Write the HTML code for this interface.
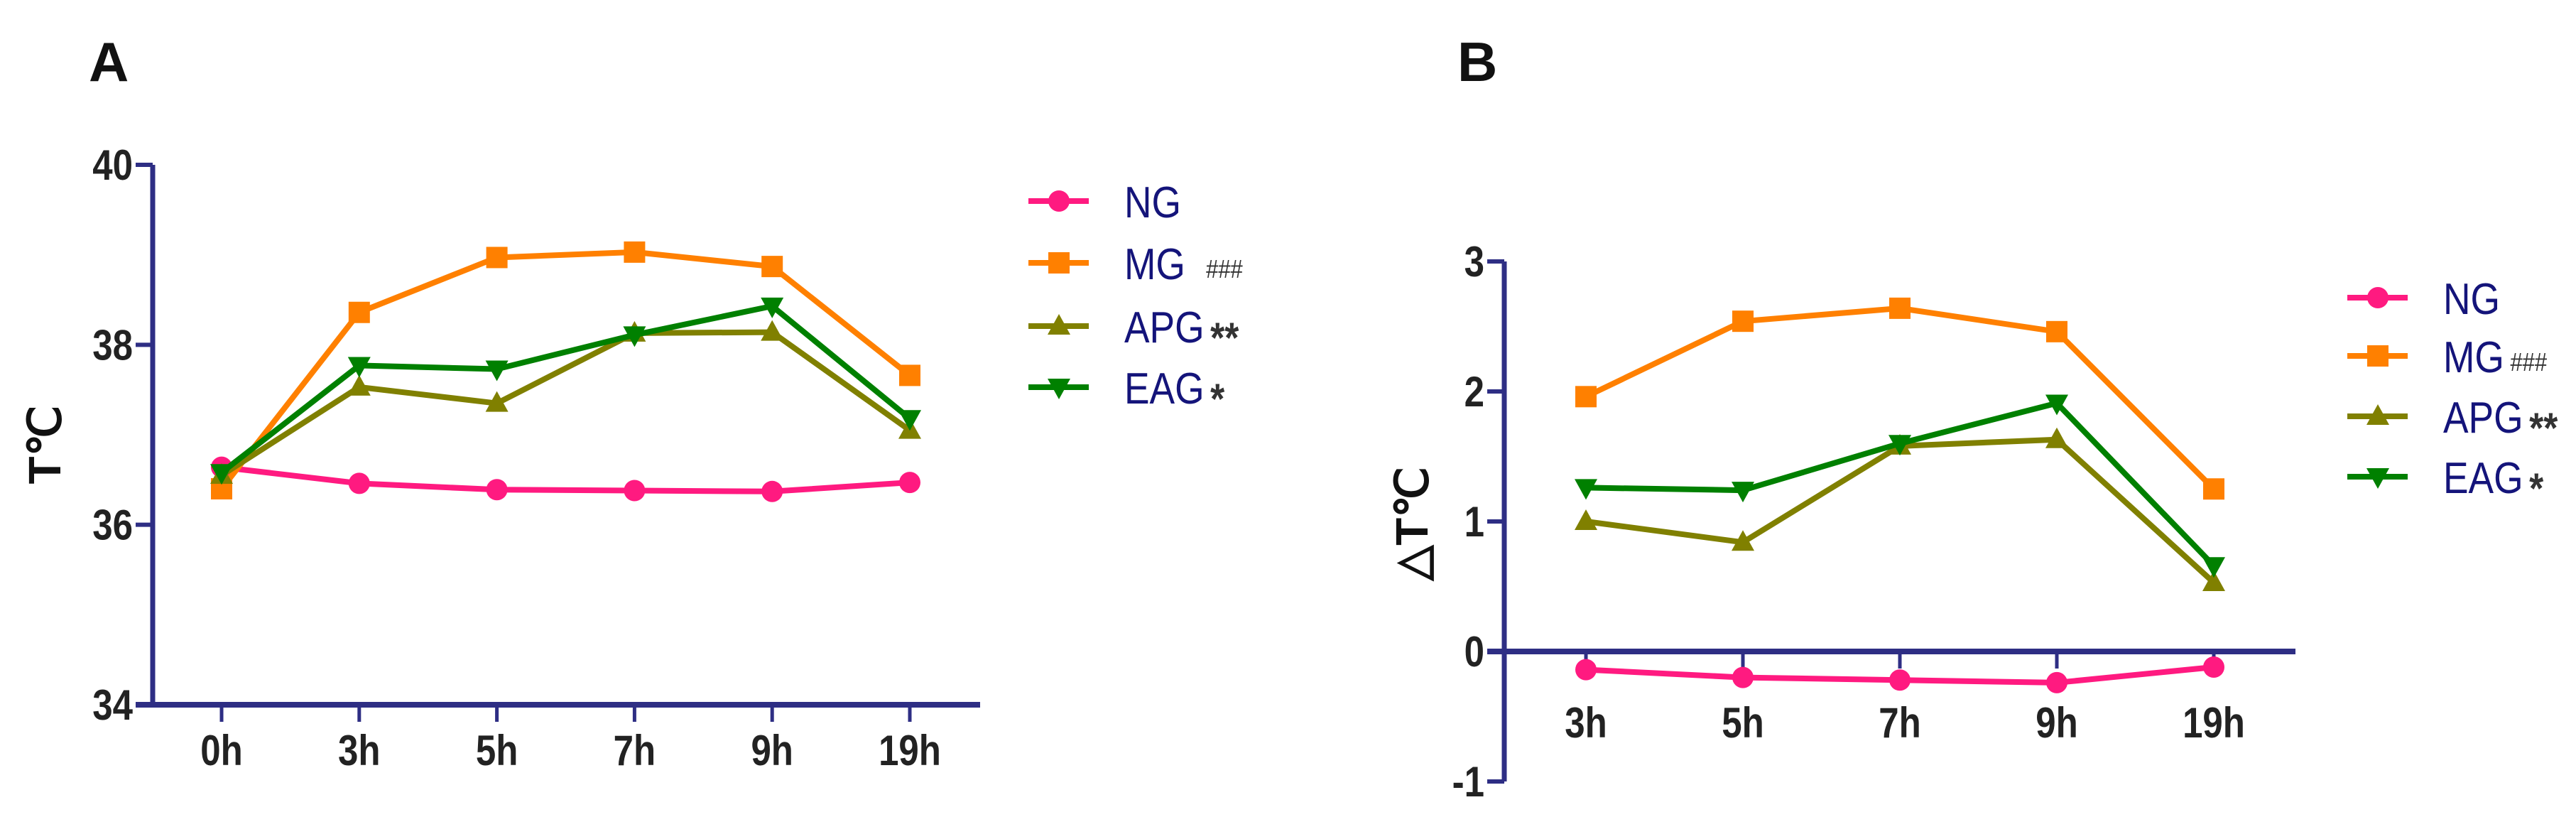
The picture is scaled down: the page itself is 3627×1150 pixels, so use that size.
<!DOCTYPE html>
<html><head><meta charset="utf-8"><style>
html,body{margin:0;padding:0;background:#fff;}
svg{display:block;}
text{font-family:"Liberation Sans",sans-serif;}
.tick{font-family:"Liberation Sans",sans-serif;font-weight:bold;font-size:60px;fill:#222;}
.leg{font-size:62px;fill:#14147a;}
</style></head><body>
<svg id="chart" width="3627" height="1150" viewBox="0 0 3627 1150" xmlns="http://www.w3.org/2000/svg">
<text x="125" y="114" font-size="78" font-weight="bold" fill="#111">A</text>
<text x="2052" y="114" font-size="78" font-weight="bold" fill="#111">B</text>
<text transform="translate(85,626) rotate(-90)" text-anchor="middle" font-size="64" font-weight="bold" fill="#111">T℃</text>
<text transform="translate(2010,737) rotate(-90)" text-anchor="middle" font-size="64" font-weight="bold" fill="#111">△T℃</text>
</svg>
<script>
const catsA = ["0h","3h","5h","7h","9h","19h"];
const ticksA = [34,36,38,40];
const ngA  = [36.64,36.46,36.39,36.38,36.37,36.47];
const mgA  = [36.40,38.36,38.97,39.03,38.87,37.66];
const apgA = [36.55,37.53,37.35,38.13,38.14,37.05];
const eagA = [36.58,37.77,37.73,38.11,38.43,37.18];

const catsB = ["3h","5h","7h","9h","19h"];
const ticksB = [-1,0,1,2,3];
const ngB  = [-0.14,-0.20,-0.22,-0.24,-0.12];
const mgB  = [1.96,2.54,2.64,2.46,1.25];
const apgB = [1.00,0.84,1.58,1.63,0.53];
const eagB = [1.26,1.24,1.60,1.91,0.66];

const seriesNames = ["NG","MG","APG","EAG"];
const seriesMarks = ["###","**","*"];

const NS="http://www.w3.org/2000/svg";
const svg=document.getElementById('chart');
const colors={NG:"#ff1a80",MG:"#ff8000",APG:"#808000",EAG:"#008000"};
const shapes={NG:"circle",MG:"square",APG:"up",EAG:"down"};
const AX="#2e2e84";

function mk(tag,attrs,parent){const e=document.createElementNS(NS,tag);for(const k in attrs)e.setAttribute(k,attrs[k]);(parent||svg).appendChild(e);return e;}

function marker(g,shape,x,y,c){
  let e;
  if(shape==="circle") e=mk('circle',{cx:x,cy:y,r:15,fill:c},g);
  else if(shape==="square") e=mk('rect',{x:x-15,y:y-15,width:30,height:30,fill:c},g);
  else if(shape==="up") e=mk('polygon',{points:`${x},${y-17} ${x+16},${y+12} ${x-16},${y+12}`,fill:c},g);
  else e=mk('polygon',{points:`${x},${y+17} ${x+16},${y-12} ${x-16},${y-12}`,fill:c},g);
  return e;
}

function panel(p){
  const ys=v=>p.yTop+(p.yMax-v)/(p.yMax-p.yMin)*(p.yBot-p.yTop);
  const xs=i=>p.x0+i*p.dx;
  const g=mk('g',{});
  
  
  const ya=mk('line',{x1:p.ax,y1:ys(p.yMax),x2:p.ax,y2:ys(p.yMin),stroke:AX,'stroke-width':7},g);
  
  
  p.ticks.forEach(t=>{
    const y=ys(t);
    mk('line',{x1:p.ax-24,y1:y,x2:p.ax,y2:y,stroke:AX,'stroke-width':6},g);
    const tx=mk('text',{x:0,y:0,transform:`translate(${p.ax-28},${y+21}) scale(0.85,1)`,'text-anchor':'end',class:'tick'},g);
    tx.textContent=t;
    
    
  });
  const xa=mk('line',{x1:p.ax-24,y1:ys(p.xAt),x2:p.axEnd,y2:ys(p.xAt),stroke:AX,'stroke-width':8},g);
  
  
  p.cats.forEach((c,i)=>{
    const x=xs(i),y=ys(p.xAt);
    mk('line',{x1:x,y1:y,x2:x,y2:y+24,stroke:AX,'stroke-width':5},g);
    const tx=mk('text',{x:0,y:0,transform:`translate(${x},${p.labelY}) scale(0.85,1)`,'text-anchor':'middle',class:'tick'},g);
    tx.textContent=c;
    
    
  });
  p.series.forEach((vals,si)=>{
    const nm=seriesNames[si];const col=colors[nm];
    const sg=mk('g',{},g);
    
    
    const pts=vals.map((v,i)=>xs(i)+','+ys(v)).join(' ');
    mk('polyline',{points:pts,fill:'none',stroke:col,'stroke-width':8,'stroke-linejoin':'round'},sg);
    vals.forEach((v,i)=>{
      const m=marker(sg,shapes[nm],xs(i),ys(v),col);
      
      
    });
  });
  seriesNames.forEach((nm,i)=>{
    const y=p.legY[i];const col=colors[nm];
    const lg=mk('g',{},g);
    
    
    mk('line',{x1:p.legX,y1:y,x2:p.legX+85,y2:y,stroke:col,'stroke-width':8},lg);
    marker(lg,shapes[nm],p.legX+43,y,col);
    const t=mk('text',{x:0,y:0,transform:`translate(${p.legX+135},${y+23}) scale(0.86,1)`,class:'leg'},lg);
    t.textContent=nm;
    if(i>0){
      const s=mk('tspan',{dx:nm==="MG"?p.hashDx:10,'font-size':nm==="MG"?36:60,fill:'#333','font-weight':nm==="MG"?'normal':'bold',dy:nm==="MG"?-2:14},t);
      s.textContent=seriesMarks[i-1];
    }
  });
}

panel({id:'panel-a',cats:catsA,ticks:ticksA,series:[ngA,mgA,apgA,eagA],
  yMin:34,yMax:40,yTop:232,yBot:992,ax:215,axEnd:1380,x0:312,dx:193.8,xAt:34,labelY:1077,
  legX:1448,legY:[283,370,459,545],hashDx:34});
panel({id:'panel-b',cats:catsB,ticks:ticksB,series:[ngB,mgB,apgB,eagB],
  yMin:-1,yMax:3,yTop:368,yBot:1100,ax:2118,axEnd:3232,x0:2233,dx:221,xAt:0,labelY:1038,
  legX:3305,legY:[419,501,586,671],hashDx:10});
</script>
</body></html>
